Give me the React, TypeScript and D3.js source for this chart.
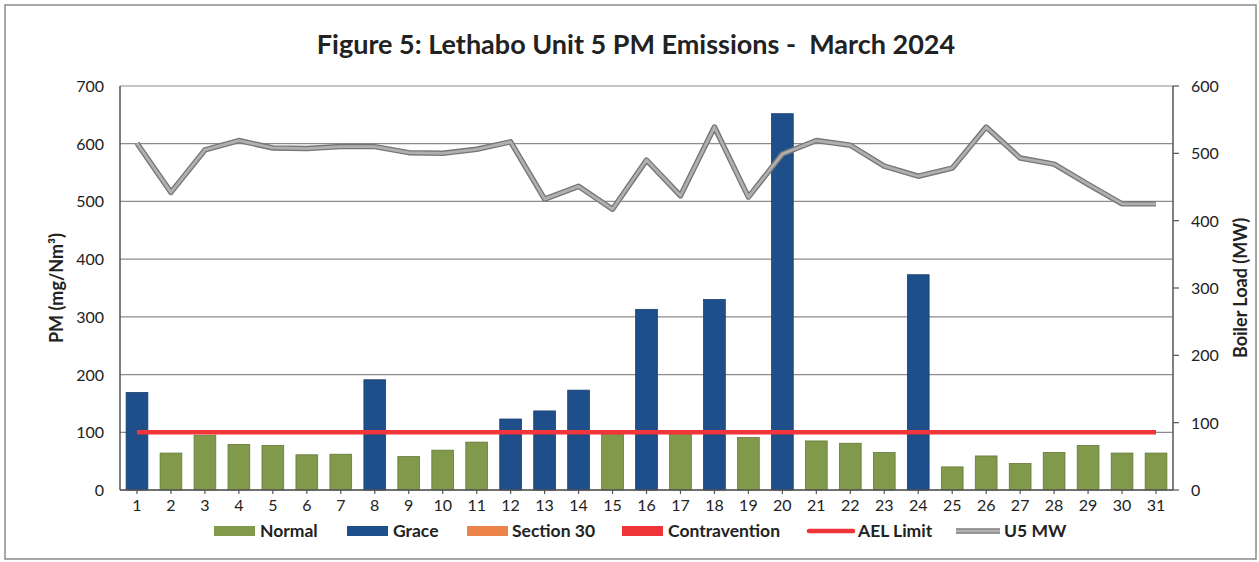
import React from "react";
import * as d3 from "d3";

const days = Array.from({ length: 31 }, (_, i) => String(i + 1));
const pmValues = [169, 64, 95, 79, 77, 61, 62, 191, 58, 69, 83, 123, 137, 173, 96, 313, 96, 330, 91, 652, 85, 81, 65, 373, 40, 59, 46, 65, 77, 64, 64];
const graceDays = ["1", "8", "12", "13", "14", "16", "18", "20", "24"];
const mwValues = [515, 442, 505, 519, 508, 507, 510, 510, 501, 500, 506, 517, 432, 451, 417, 490, 437, 539, 435, 499, 519, 512, 481, 466, 478, 539, 493, 484, 454, 425, 425];
const aelLimit = 100;
const leftTicks = [0, 100, 200, 300, 400, 500, 600, 700];
const rightTicks = [0, 100, 200, 300, 400, 500, 600];

const legendItems = [
  { label: "Normal", kind: "rect", color: "#80994a", x: 214, tx: 260 },
  { label: "Grace", kind: "rect", color: "#1f4f8a", x: 347, tx: 393 },
  { label: "Section 30", kind: "rect", color: "#ec8449", x: 467, tx: 512 },
  { label: "Contravention", kind: "rect", color: "#ee3339", x: 622, tx: 668 },
  { label: "AEL Limit", kind: "line", color: "#ee3339", x: 809, tx: 858 },
  { label: "U5 MW", kind: "gline", color: "#a6a6a6", x: 956, tx: 1004 },
];

const FONT = "Lato, 'Open Sans', sans-serif";

export default function App() {
  const W = 1259, H = 562;
  const left = 120, right = 1173, top = 86, bottom = 490;
  const x = d3.scaleBand<string>().domain(days).range([left, right]).paddingInner(0.36).paddingOuter(0.18);
  const yL = d3.scaleLinear().domain([0, 700]).range([bottom, top]);
  const yR = d3.scaleLinear().domain([0, 600]).range([bottom, top]);
  const cx = (d: string) => (x(d) as number) + x.bandwidth() / 2;

  const mwLine = d3.line<number>().x((_, i) => cx(days[i])).y((v) => yR(v))(mwValues) as string;
  const aelLine = d3.line<string>().x((d) => cx(d)).y(() => yL(aelLimit))(days) as string;

  return (
    <svg width={W} height={H} style={{ position: "absolute", left: 0, top: 0, background: "#fff" }} fontFamily={FONT}>
      <rect x={5} y={5} width={1251} height={554} fill="#fff" stroke="#8a8a8a" strokeWidth={1.5} />
      <text x={636} y={54} textAnchor="middle" fontSize={27} fontWeight="bold" fill="#222" style={{ whiteSpace: "pre" }}>
        {"Figure 5: Lethabo Unit 5 PM Emissions -  March 2024"}
      </text>

      {leftTicks.map((t) => (
        <g key={"gl" + t}>
          <line x1={left} x2={right} y1={yL(t)} y2={yL(t)} stroke="#8c8c8c" strokeWidth={1.2} />
          <text x={104} y={yL(t) + 6} textAnchor="end" fontSize={16} fill="#222">{t}</text>
        </g>
      ))}
      {rightTicks.map((t) => (
        <g key={"gr" + t}>
          <line x1={right} x2={right + 6} y1={yR(t)} y2={yR(t)} stroke="#555" strokeWidth={1.2} />
          <text x={1191} y={yR(t) + 6} textAnchor="start" fontSize={16} fill="#222">{t}</text>
        </g>
      ))}

      {days.map((d, i) => (
        <rect
          key={"b" + d}
          x={x(d)}
          y={yL(pmValues[i])}
          width={x.bandwidth()}
          height={bottom - yL(pmValues[i])}
          fill={graceDays.includes(d) ? "#1f4f8a" : "#80994a"}
          stroke={graceDays.includes(d) ? "#183f70" : "#66793a"}
          strokeWidth={0.8}
        />
      ))}

      <line x1={left} x2={left} y1={top} y2={bottom} stroke="#555" strokeWidth={1.5} />
      <line x1={right} x2={right} y1={top} y2={bottom} stroke="#555" strokeWidth={1.5} />
      <line x1={left} x2={right} y1={bottom} y2={bottom} stroke="#555" strokeWidth={1.5} />

      {days.map((d) => (
        <g key={"xt" + d}>
          <line x1={cx(d)} x2={cx(d)} y1={bottom} y2={bottom + 4} stroke="#555" strokeWidth={1.2} />
          <text x={cx(d)} y={511} textAnchor="middle" fontSize={16} fill="#222">{d}</text>
        </g>
      ))}

      <path d={aelLine} fill="none" stroke="#f0353b" strokeWidth={4.5} />
      <path d={mwLine} fill="none" stroke="#777" strokeWidth={5.5} strokeLinejoin="round" />
      <path d={mwLine} fill="none" stroke="#b0b0b0" strokeWidth={2.8} strokeLinejoin="round" />

      <text transform={`translate(63,${(top + bottom) / 2}) rotate(-90)`} textAnchor="middle" fontSize={18} fontWeight="bold" fill="#222">
        PM (mg/Nm³)
      </text>
      <text transform={`translate(1247,${(top + bottom) / 2}) rotate(-90)`} textAnchor="middle" fontSize={18} fontWeight="bold" fill="#222">
        Boiler Load (MW)
      </text>

      {legendItems.map((it) => (
        <g key={it.label}>
          {it.kind === "rect" && <rect x={it.x} y={526} width={41} height={10} fill={it.color} />}
          {it.kind === "line" && <line x1={it.x} x2={it.x + 44} y1={531} y2={531} stroke={it.color} strokeWidth={4.5} strokeLinecap="round" />}
          {it.kind === "gline" && (
            <g>
              <line x1={it.x} x2={it.x + 44} y1={531} y2={531} stroke="#777" strokeWidth={5.5} />
              <line x1={it.x} x2={it.x + 44} y1={531} y2={531} stroke="#b0b0b0" strokeWidth={2.8} />
            </g>
          )}
          <text x={it.tx} y={537} fontSize={17.5} fontWeight="bold" fill="#222">{it.label}</text>
        </g>
      ))}
    </svg>
  );
}
